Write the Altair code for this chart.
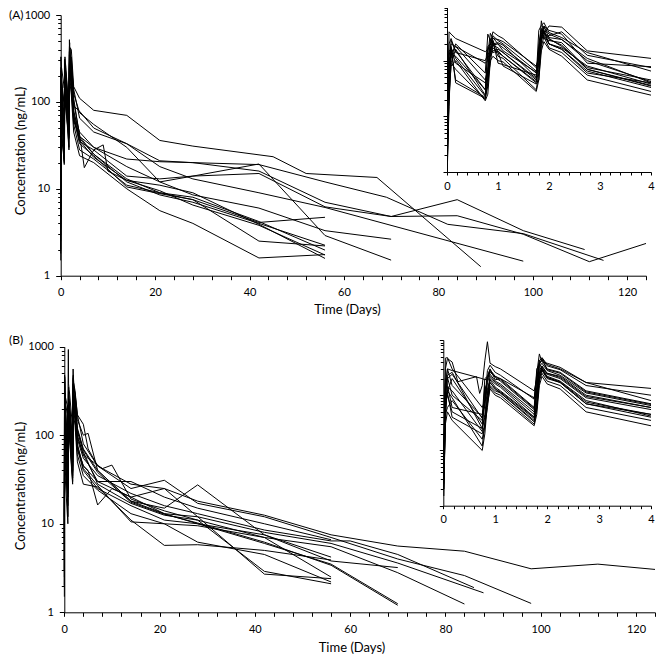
import altair as alt
import pandas as pd

# ---------------- data ----------------
EARLY_T = [0.01, 0.04, 0.08, 0.17, 0.75, 0.8, 0.85, 0.9, 1.0, 1.1,
           1.75, 1.8, 1.85, 1.9, 2.0, 2.25, 2.75, 4.0]

A_EARLY_C = [
    [4, 330, 300, 250, 145, 160, 200, 330, 280, 250, 75, 120, 520, 300, 420, 400, 150, 110],
    [2, 60, 110, 200, 60, 300, 230, 200, 210, 190, 50, 350, 430, 480, 320, 260, 140, 65],
    [8, 150, 160, 90, 40, 60, 150, 260, 200, 150, 62, 90, 260, 400, 300, 240, 110, 40],
    [3, 20, 90, 160, 24, 140, 120, 150, 160, 140, 45, 200, 380, 250, 230, 210, 70, 35],
    [12, 200, 250, 140, 100, 130, 310, 250, 240, 220, 80, 110, 300, 420, 350, 300, 90, 78],
    [1.5, 15, 150, 45, 22, 35, 130, 170, 140, 80, 38, 45, 220, 330, 200, 160, 60, 40],
    [6, 100, 130, 120, 30, 180, 200, 230, 90, 85, 55, 140, 270, 320, 250, 180, 75, 45],
    [10, 120, 200, 180, 90, 100, 190, 280, 230, 200, 65, 160, 350, 300, 280, 330, 125, 75],
    [2.5, 40, 180, 40, 21, 40, 180, 140, 150, 120, 40, 70, 240, 360, 200, 170, 80, 38],
    [20, 60, 90, 70, 20, 50, 90, 200, 120, 110, 30, 60, 180, 270, 170, 140, 55, 28],
    [3.5, 50, 230, 150, 30, 70, 160, 190, 170, 140, 48, 85, 270, 340, 240, 190, 70, 36],
    [1.8, 25, 80, 100, 19, 25, 100, 120, 100, 95, 28, 45, 150, 220, 160, 120, 45, 24],
    [7, 80, 170, 110, 23, 60, 140, 230, 140, 120, 42, 130, 240, 290, 200, 160, 65, 33],
    [4.5, 70, 140, 180, 45, 70, 250, 190, 200, 170, 60, 115, 320, 410, 260, 240, 100, 42],
]

A_LATE = [
    [(7, 80), (14, 70), (21, 36), (28, 31), (45, 23.4), (52, 15), (67, 13.5), (89, 1.27)],
    [(7, 45), (14, 33), (21, 21), (28, 20), (42, 19), (56, 12), (69, 8), (82, 3.9), (98, 3.05), (115, 1.5)],
    [(7, 30), (14, 22), (21, 20.5), (28, 20), (42, 16), (56, 7), (70, 4.8), (84, 7.5), (98, 3.3), (111, 2.0)],
    [(7, 28), (14, 14), (21, 13), (28, 14), (42, 15), (56, 6.2), (70, 4.8), (84, 4.9), (98, 3.0), (112, 1.45), (124, 2.35)],
    [(7, 50), (14, 33), (21, 18), (28, 13), (42, 9), (56, 6.1), (98, 1.47)],
    [(7, 25), (14, 13), (21, 9), (28, 7.5), (42, 4.1), (56, 4.7)],
    [(7, 30), (14, 18), (21, 12), (28, 8.5), (42, 6), (56, 3.3), (70, 2.63)],
    [(7, 55), (14, 30), (21, 12), (28, 14), (42, 19.3), (56, 2.9), (70, 1.51)],
    [(7, 25), (14, 12), (21, 8.5), (28, 7), (42, 4), (56, 2.24)],
    [(7, 22), (14, 11), (21, 9), (28, 8), (42, 4.2), (56, 1.97)],
    [(7, 23), (14, 12.5), (21, 9.5), (28, 6.5), (42, 3.8), (56, 1.73)],
    [(7, 20), (14, 10), (21, 5.6), (28, 4), (42, 1.6), (56, 1.75)],
    [(7, 24), (14, 10.5), (21, 8.8), (28, 7.5), (42, 2.5), (56, 2.2)],
    [(5, 17.5), (7, 28), (9, 32), (10, 16), (14, 12.5), (21, 11), (28, 9), (42, 3.9), (56, 1.58)],
]

B_EARLY_C = [
    [3, 470, 480, 300, 60, 80, 280, 350, 260, 230, 85, 250, 560, 400, 380, 320, 170, 80],
    [9, 300, 460, 400, 150, 420, 930, 380, 330, 300, 120, 200, 420, 480, 360, 300, 170, 133],
    [2, 30, 230, 260, 25, 40, 80, 200, 160, 140, 40, 220, 250, 330, 240, 200, 90, 55],
    [5, 90, 120, 200, 30, 150, 100, 220, 170, 150, 45, 110, 380, 300, 250, 220, 100, 60],
    [12, 200, 150, 60, 45, 70, 190, 280, 210, 180, 55, 120, 330, 380, 280, 230, 110, 65],
    [1.5, 80, 110, 40, 20, 30, 60, 150, 120, 110, 35, 60, 200, 280, 200, 170, 70, 40],
    [6, 110, 300, 150, 40, 200, 220, 300, 190, 200, 60, 140, 380, 450, 300, 260, 120, 70],
    [7, 160, 200, 240, 38, 85, 210, 290, 220, 190, 58, 300, 360, 440, 290, 250, 115, 68],
    [3, 45, 60, 80, 16, 28, 85, 140, 110, 100, 30, 55, 180, 250, 180, 150, 60, 35],
    [4, 70, 100, 50, 25, 45, 130, 190, 140, 120, 40, 75, 240, 310, 220, 180, 80, 42],
    [2.5, 30, 50, 35, 10, 20, 70, 130, 100, 90, 28, 45, 150, 220, 160, 130, 50, 28],
    [10, 160, 300, 280, 200, 190, 200, 260, 220, 200, 90, 180, 420, 470, 340, 290, 150, 100],
    [4, 55, 120, 90, 12, 30, 100, 170, 130, 110, 33, 60, 200, 290, 210, 170, 70, 45],
    [6, 90, 210, 100, 35, 65, 170, 240, 180, 160, 50, 100, 280, 340, 250, 210, 95, 60],
    [2, 50, 140, 120, 22, 140, 110, 170, 130, 115, 38, 70, 230, 300, 210, 175, 75, 45],
]

B_EXTRA = [(1, 0.28, 176), (1, 0.64, 217), (1, 0.7, 108)]

B_LATE = [
    [(7, 45), (14, 28), (21, 25), (28, 18), (42, 12.5), (56, 7.5), (70, 5.6), (84, 4.9), (98, 3.1), (112, 3.5), (124, 3.05)],
    [(5, 70), (7, 45), (14, 25), (21, 31), (28, 17), (42, 12), (56, 7), (70, 4), (84, 2.6), (98, 1.26)],
    [(7, 35), (14, 22), (21, 16), (28, 13), (42, 8.5), (56, 6.4), (60, 6.4), (70, 4.5), (86, 1.9)],
    [(7, 30), (14, 20), (21, 13), (28, 12), (42, 8), (56, 6), (70, 3.6), (88, 1.66)],
    [(7, 28), (14, 17), (21, 12.5), (28, 11), (42, 7), (56, 5.5), (70, 2.8), (84, 1.24)],
    [(7, 25), (14, 16), (21, 11), (28, 10), (42, 7.5), (56, 3.8), (70, 3.2)],
    [(7, 40), (14, 18), (21, 13), (28, 10), (42, 6), (56, 3.5), (70, 1.25)],
    [(7, 38), (14, 17.5), (21, 12.8), (28, 10.2), (42, 6.2), (56, 3.4), (70, 1.2)],
    [(7, 24), (14, 13), (21, 10), (28, 9.5), (42, 7), (56, 2.5)],
    [(7, 27), (14, 10.5), (21, 10), (28, 6.2), (42, 4.5), (56, 2.2)],
    [(7, 26), (14, 11), (21, 5.7), (28, 5.8), (42, 5), (56, 3.9)],
    [(5, 105), (7, 40), (14, 18), (21, 15), (28, 27.5), (42, 7.5), (56, 4.2)],
    [(5, 40), (7, 16.3), (10, 25), (14, 20), (21, 25), (28, 12), (42, 2.7), (56, 2.4)],
    [(8, 42), (10, 46), (14, 19), (21, 14), (28, 11), (42, 2.9), (56, 2.1)],
    [(7, 30), (14, 30), (21, 20), (28, 15), (42, 10), (56, 6.6)],
]

X_MAIN_TICKS = list(range(0, 125, 4))
X_INSET_TICKS = [round(0.2 * i, 1) for i in range(21)]
LOG_TICKS = [m * 10 ** e for e in range(3) for m in range(1, 10)] + [1000]

# ---------------- layout ----------------
W, H = 648, 647
FONT = "Lato"
MAJOR = "indexof([1, 10, 100, 1000], datum.value) >= 0"


def frame(early, late, extra):
    rows = []
    for s, (ec, lt) in enumerate(zip(early, late)):
        for t, c in zip(EARLY_T, ec):
            rows.append((s, t, c))
        for t, c in lt:
            rows.append((s, t, c))
    for s, t, c in extra:
        rows.append((s, t, c))
    return pd.DataFrame(rows, columns=["subject", "t", "c"])


def lines(df, xdom, xrange, yrange, main):
    base = alt.Chart(df)
    if not main:
        base = base.transform_filter(alt.datum.t <= xdom[1])
    if main:
        xvals, xexpr = X_MAIN_TICKS, "datum.value % 20 === 0 ? format(datum.value, 'd') : ''"
    else:
        xvals, xexpr = X_INSET_TICKS, "abs(datum.value - round(datum.value)) < 0.001 ? format(datum.value, 'd') : ''"
    x_axis = alt.Axis(
        orient="bottom", offset=yrange[0] - H, values=xvals, labelExpr=xexpr,
        grid=False, tickSize=4 if main else 3, labelPadding=7 if main else 5,
        labelFlush=False, labelOverlap=False, domainColor="black", tickColor="black",
        labelColor="black", labelFont=FONT, labelFontSize=11, title=None,
    )
    y_axis = alt.Axis(
        orient="left", offset=-xrange[0], values=LOG_TICKS,
        labelExpr=MAJOR + " ? format(datum.value, 'd') : ''", labels=main,
        tickSize={"condition": {"test": MAJOR, "value": 5 if main else 4}, "value": 3},
        labelPadding=6, grid=False, labelOverlap=False, labelFlush=False,
        domainColor="black", tickColor="black", labelColor="black",
        labelFont=FONT, labelFontSize=11, title=None,
    )
    return base.mark_line(color="black", strokeWidth=1, clip=False).encode(
        x=alt.X("t:Q", scale=alt.Scale(domain=xdom, range=xrange, nice=False, zero=False), axis=x_axis),
        y=alt.Y("c:Q", scale=alt.Scale(type="log", domain=[1, 1000], range=yrange, nice=False), axis=y_axis),
        detail="subject:N",
    )


def text(s, x, y, angle=0, align="center", baseline="middle", size=13):
    return alt.Chart(pd.DataFrame({"k": [0]})).mark_text(
        text=s, angle=angle, align=align, baseline=baseline,
        font=FONT, fontSize=size, color="black",
    ).encode(x=alt.value(x), y=alt.value(y))


dfA = frame(A_EARLY_C, A_LATE, [])
dfB = frame(B_EARLY_C, B_LATE, B_EXTRA)

layers = [
    lines(dfA, [0, 124], [52.7, 638], [267.7, 7], True),
    lines(dfA, [0, 4], [439, 643], [164, -3], False),
    lines(dfB, [0, 124], [56.3, 647], [604.3, 338.7], True),
    lines(dfB, [0, 4], [435.3, 643], [497.7, 332], False),
    text("(A)", 1, 2, align="left", baseline="top", size=12),
    text("(B)", 1, 332, align="left", size=12),
    text("Concentration  (ng/mL)", 13, 143, angle=270),
    text("Concentration  (ng/mL)", 13, 478, angle=270),
    text("Time (Days)", 339.5, 302),
    text("Time (Days)", 344, 640),
]

chart = alt.layer(*layers).resolve_scale(x="independent", y="independent").properties(
    width=W, height=H, padding=0, autosize=alt.AutoSizeParams(type="none")
).configure_view(strokeWidth=0)

chart.save("out.html", embed_options={"renderer": "svg", "actions": False})
